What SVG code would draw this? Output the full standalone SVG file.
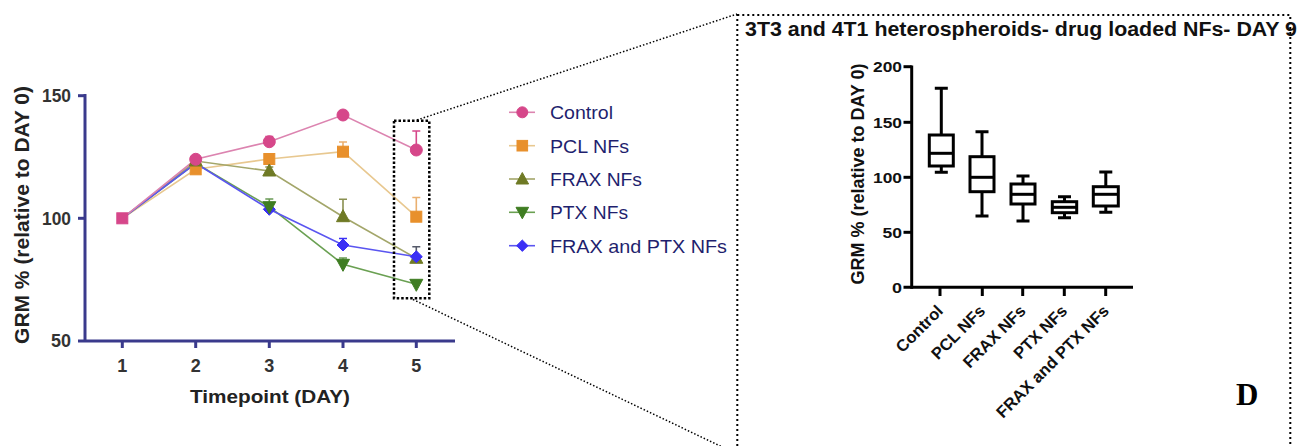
<svg xmlns="http://www.w3.org/2000/svg" width="1299" height="446" viewBox="0 0 1299 446">
<style>
  .ax{stroke:#3a3a8c;stroke-width:3;fill:none}
  .tk{font-family:"Liberation Sans",Arial,sans-serif;font-weight:bold;fill:#333}
  .lg{font-family:"Liberation Sans",Arial,sans-serif;font-size:19px;fill:#1f1f6e}
  .bx{stroke:#000;stroke-width:3;fill:#fff}
  .wk{stroke:#000;stroke-width:3;fill:none}
  .rt{font-family:"Liberation Sans",Arial,sans-serif;font-weight:bold;fill:#111}
  .dot{fill:none;stroke:#000;stroke-width:1.5;stroke-dasharray:1.5,2}
  .dbox{fill:none;stroke:#000;stroke-width:2.5;stroke-dasharray:2.5,2}
  .rbox{fill:none;stroke:#000;stroke-width:2;stroke-dasharray:2,3}
  .ctl{stroke:#d6478a;fill:#d6478a}
  .pcl{stroke:#e8902c;fill:#e8902c}
  .frx{stroke:#6f7a25;fill:#6f7a25}
  .ptx{stroke:#3f7d22;fill:#3f7d22}
  .blu{stroke:#3b30f5;fill:#3b30f5}
  .ln{fill:none;stroke-width:1.6}
  .eb{fill:none;stroke-width:1.6}
</style>

<g id="left-chart">
  <line class="ax" x1="85" y1="94" x2="85" y2="341"/>
  <line class="ax" x1="78" y1="341" x2="455" y2="341"/>
  <line class="ax" x1="78" y1="95.7" x2="85" y2="95.7"/>
  <line class="ax" x1="78" y1="218.3" x2="85" y2="218.3"/>
  <g class="ax">
    <line x1="122.3" y1="341" x2="122.3" y2="348"/>
    <line x1="195.7" y1="341" x2="195.7" y2="348"/>
    <line x1="269.3" y1="341" x2="269.3" y2="348"/>
    <line x1="343" y1="341" x2="343" y2="348"/>
    <line x1="416.3" y1="341" x2="416.3" y2="348"/>
  </g>
  <g class="tk" font-size="18" text-anchor="end">
    <text x="71" y="102" textLength="29" lengthAdjust="spacingAndGlyphs">150</text>
    <text x="71" y="224.5" textLength="29" lengthAdjust="spacingAndGlyphs">100</text>
    <text x="71" y="347" textLength="20" lengthAdjust="spacingAndGlyphs">50</text>
  </g>
  <g class="tk" font-size="18" text-anchor="middle">
    <text x="122.3" y="372">1</text>
    <text x="195.7" y="372">2</text>
    <text x="269.3" y="372">3</text>
    <text x="343" y="372">4</text>
    <text x="416.3" y="372">5</text>
  </g>
  <text class="tk" font-size="19" x="270" y="403" text-anchor="middle" textLength="160" lengthAdjust="spacingAndGlyphs" style="fill:#222">Timepoint  (DAY)</text>
  <text class="tk" font-size="21" text-anchor="middle" transform="translate(29,215) rotate(-90)" style="fill:#222">GRM % (relative to DAY 0)</text>

  <!-- lines -->
  <polyline class="ln" style="stroke:#e8c890" points="122.3,218.3 195.7,169.3 269.3,159 343,151.7 416.3,216.7"/>
  <polyline class="ln" style="stroke:#a3a66a" points="122.3,218.3 195.7,161 269.3,171 343,216.7 416.3,258.3"/>
  <polyline class="ln" style="stroke:#6aa052" points="122.3,218.3 195.7,163.3 269.3,206.7 343,264.3 416.3,284.3"/>
  <polyline class="ln" style="stroke:#5a55f0" points="122.3,218.3 195.7,163.3 269.3,209.3 343,245 416.3,256.7"/>
  <polyline class="ln" style="stroke:#dc84b0" points="122.3,218.3 195.7,159.3 269.3,141.7 343,115 416.3,150"/>

  <!-- error bars -->
  <g class="eb">
    <path class="ctl" style="fill:none" d="M269.3,141.7V136.5M265.3,136.5H273.3M343,115V111M339,111H347M416.3,150V131M412.3,131H420.3"/>
    <path class="pcl" style="fill:none;stroke:#eab070" d="M269.3,159V155.5M265.3,155.5H273.3M343,151.7V142M339,142H347M416.3,216.7V197.5M412.3,197.5H420.3"/>
    <path class="frx" style="fill:none;stroke:#8a9050" d="M269.3,171V167M265.3,167H273.3M343,216.7V199.3M339,199.3H347"/>
    <path class="ptx" style="fill:none;stroke:#6a9a55" d="M269.3,206.7V199M265.3,199H273.3M343,264.3V258M339,258H347"/>
    <path class="blu" style="fill:none" d="M343,245V238.5M339,238.5H347"/>
    <path style="fill:none;stroke:#555a6a" d="M416.3,256.7V246.7M412.3,246.7H420.3"/>
  </g>

  <!-- markers -->
  <g class="pcl">
    <rect x="190.2" y="163.8" width="11" height="11"/>
    <rect x="263.8" y="153.5" width="11" height="11"/>
    <rect x="337.5" y="146.2" width="11" height="11"/>
    <rect x="410.8" y="211.2" width="11" height="11"/>
  </g>
  <g class="frx">
    <polygon points="195.7,154 189.2,166 202.2,166"/>
    <polygon points="269.3,164 262.8,176 275.8,176"/>
    <polygon points="343,209.7 336.5,221.7 349.5,221.7"/>
    <polygon points="416.3,251.3 409.8,263.3 422.8,263.3"/>
  </g>
  <g class="blu">
    <polygon points="269.3,203.3 275.3,209.3 269.3,215.3 263.3,209.3"/>
    <polygon points="343,239 349,245 343,251 337,245"/>
    <polygon points="416.3,250.7 422.3,256.7 416.3,262.7 410.3,256.7"/>
  </g>
  <g class="ptx">
    <polygon points="269.3,213.7 262.8,201.7 275.8,201.7"/>
    <polygon points="343,271.3 336.5,259.3 349.5,259.3"/>
    <polygon points="416.3,291.3 409.8,279.3 422.8,279.3"/>
  </g>
  <g class="ctl">
    <rect x="116.8" y="212.8" width="11" height="11"/>
    <circle cx="195.7" cy="159.3" r="6"/>
    <circle cx="269.3" cy="141.7" r="6"/>
    <circle cx="343" cy="115" r="6"/>
    <circle cx="416.3" cy="150" r="6"/>
  </g>
</g>

<g id="legend">
  <g id="leg-control">
    <line style="stroke:#dc84b0" stroke-width="1.6" x1="509" y1="112.3" x2="535" y2="112.3"/>
    <circle class="ctl" cx="522.3" cy="112.3" r="5.5"/>
    <text class="lg" x="550" y="119" textLength="63" lengthAdjust="spacingAndGlyphs">Control</text>
  </g>
  <g id="leg-pcl">
    <line style="stroke:#e8c890" stroke-width="1.6" x1="509" y1="145.7" x2="535" y2="145.7"/>
    <rect class="pcl" x="517" y="140.4" width="10.6" height="10.6"/>
    <text class="lg" x="550" y="152.5" textLength="79" lengthAdjust="spacingAndGlyphs">PCL NFs</text>
  </g>
  <g id="leg-frax">
    <line style="stroke:#a3a66a" stroke-width="1.6" x1="509" y1="179" x2="535" y2="179"/>
    <polygon class="frx" points="522.3,172.5 516,184 528.6,184"/>
    <text class="lg" x="550" y="186" textLength="92" lengthAdjust="spacingAndGlyphs">FRAX NFs</text>
  </g>
  <g id="leg-ptx">
    <line style="stroke:#6aa052" stroke-width="1.6" x1="509" y1="212.3" x2="535" y2="212.3"/>
    <polygon class="ptx" points="522.3,218.8 516,207.3 528.6,207.3"/>
    <text class="lg" x="550" y="219.3" textLength="78" lengthAdjust="spacingAndGlyphs">PTX NFs</text>
  </g>
  <g id="leg-fraxptx">
    <line style="stroke:#5a55f0" stroke-width="1.6" x1="509" y1="245.7" x2="535" y2="245.7"/>
    <polygon class="blu" points="522.3,240 528,245.7 522.3,251.4 516.6,245.7"/>
    <text class="lg" x="550" y="252.7" textLength="177" lengthAdjust="spacingAndGlyphs">FRAX and PTX NFs</text>
  </g>
</g>

<g id="connectors">
  <rect class="dbox" x="394" y="120.7" width="35.3" height="177.6"/>
  <line class="dot" x1="417" y1="120" x2="737" y2="14"/>
  <line class="dot" x1="413" y1="299.5" x2="737" y2="454"/>
</g>

<g id="right-panel">
  <rect class="rbox" x="737.3" y="15" width="553" height="445"/>
  <text class="rt" font-size="20" x="745" y="35.5" textLength="552" lengthAdjust="spacingAndGlyphs">3T3 and 4T1 heterospheroids- drug loaded NFs- DAY 9</text>

  <g id="box-axes">
    <line class="wk" x1="911.7" y1="65.5" x2="911.7" y2="288.8"/>
    <line class="wk" x1="903.5" y1="287.3" x2="1133" y2="287.3"/>
    <g class="wk">
      <line x1="903.5" y1="66.7" x2="911.7" y2="66.7"/>
      <line x1="903.5" y1="122.3" x2="911.7" y2="122.3"/>
      <line x1="903.5" y1="177.3" x2="911.7" y2="177.3"/>
      <line x1="903.5" y1="232.3" x2="911.7" y2="232.3"/>
      <line x1="940" y1="287.3" x2="940" y2="296"/>
      <line x1="982.3" y1="287.3" x2="982.3" y2="296"/>
      <line x1="1022.7" y1="287.3" x2="1022.7" y2="296"/>
      <line x1="1064.3" y1="287.3" x2="1064.3" y2="296"/>
      <line x1="1105.7" y1="287.3" x2="1105.7" y2="296"/>
    </g>
    <g class="rt" font-size="15.5" text-anchor="end">
      <text x="902" y="72" textLength="29" lengthAdjust="spacingAndGlyphs">200</text>
      <text x="902" y="127.6" textLength="29" lengthAdjust="spacingAndGlyphs">150</text>
      <text x="902" y="182.6" textLength="29" lengthAdjust="spacingAndGlyphs">100</text>
      <text x="902" y="237.6" textLength="19.5" lengthAdjust="spacingAndGlyphs">50</text>
      <text x="902" y="292.6" textLength="10" lengthAdjust="spacingAndGlyphs">0</text>
    </g>
    <text class="rt" font-size="18" text-anchor="middle" transform="translate(864,174) rotate(-90)">GRM % (relative to DAY 0)</text>
    <g class="rt" font-size="16.5" text-anchor="end">
      <text transform="translate(944,312) rotate(-45)">Control</text>
      <text transform="translate(986.3,312) rotate(-45)">PCL NFs</text>
      <text transform="translate(1026.7,312) rotate(-45)">FRAX NFs</text>
      <text transform="translate(1068.3,312) rotate(-45)">PTX NFs</text>
      <text transform="translate(1110,312) rotate(-45)">FRAX and PTX NFs</text>
    </g>
  </g>

  <g id="box-control">
    <path class="wk" d="M941.3,88.3V135M941.3,166V172.3M934.8,88.3H947.8M934.8,172.3H947.8"/>
    <rect class="bx" x="929.3" y="135" width="24" height="31"/>
    <line class="wk" x1="929.3" y1="153.3" x2="953.3" y2="153.3"/>
  </g>
  <g id="box-pcl">
    <path class="wk" d="M982,131.7V156.7M982,191.7V216M975.5,131.7H988.5M975.5,216H988.5"/>
    <rect class="bx" x="970" y="156.7" width="24" height="35"/>
    <line class="wk" x1="970" y1="177.3" x2="994" y2="177.3"/>
  </g>
  <g id="box-frax">
    <path class="wk" d="M1023,176V184M1023,204V221M1016.5,176H1029.5M1016.5,221H1029.5"/>
    <rect class="bx" x="1011" y="184" width="24" height="20"/>
    <line class="wk" x1="1011" y1="194.3" x2="1035" y2="194.3"/>
  </g>
  <g id="box-ptx">
    <path class="wk" d="M1064.5,196.7V201.7M1064.5,212.7V217.7M1058,196.7H1071M1058,217.7H1071"/>
    <rect class="bx" x="1052.3" y="201.7" width="24.4" height="11"/>
    <line class="wk" x1="1052.3" y1="207.3" x2="1076.7" y2="207.3"/>
  </g>
  <g id="box-fraxptx">
    <path class="wk" d="M1105.8,172V186.7M1105.8,206V212.3M1099.3,172H1112.3M1099.3,212.3H1112.3"/>
    <rect class="bx" x="1093.3" y="186.7" width="25" height="19.3"/>
    <line class="wk" x1="1093.3" y1="194.3" x2="1118.3" y2="194.3"/>
  </g>

  <text x="1236" y="405" font-family="Liberation Serif, 'Times New Roman', serif" font-weight="bold" font-size="31" fill="#000">D</text>
</g>
</svg>
